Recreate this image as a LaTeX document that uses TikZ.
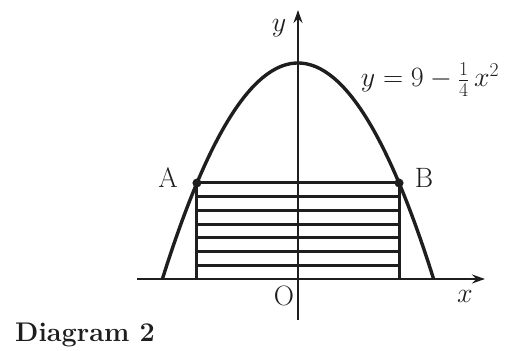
\RequirePackage{fix-cm}
\documentclass[tikz,border=0pt]{standalone}
\usepackage{amsmath}
\usepackage{tikz}
\usetikzlibrary{arrows.meta, positioning}
\definecolor{mydark}{RGB}{30,30,30}
\tikzset{
  axis/.style={-{Stealth[length=13pt,width=9pt]}, line width=2.3pt, color=mydark},
  curve/.style={line width=3.4pt, color=mydark},
  strip/.style={line width=3pt, color=mydark},
  lbl/.style={font=\fontsize{28}{32}\selectfont, color=mydark, inner sep=0pt},
  dotmark/.style={fill=mydark}
}

\begin{document}
\begin{tikzpicture}[x=22.6pt, y=24pt]
  \useasboundingbox (-298pt,-72pt) rectangle (209pt,279pt);
  % axes
  \coordinate (O) at (0,0);
  \coordinate (xl) at (-161pt,0);
  \coordinate (xr) at (187pt,0);
  \coordinate (yb) at (0,-41pt);
  \coordinate (yt) at (0,269pt);
  \draw[axis] (xl) -- (xr);
  \draw[axis] (yb) -- (yt);
  \node[lbl] (xlab) at (167pt,-17pt) {$x$};
  \node[lbl] (ylab) at (-19pt,251pt) {$y$};
  \node[lbl] (olab) at (-14pt,-17pt) {O};
  % curve
  \draw[curve] plot[domain=-6:6, samples=80, smooth] (\x, {9-0.25*\x*\x});
  \node[lbl] (eqn) at (132pt,199pt) {$y=9-\tfrac{1}{4}\,x^2$};
  % rectangle and strips
  \coordinate (a) at (-4.472,4);
  \coordinate (b) at (4.472,4);
  \coordinate (a0) at (-4.472,0);
  \coordinate (b0) at (4.472,0);
  \draw[strip] (a0) -- (a) -- (b) -- (b0);
  \foreach \k in {1,...,6} {
    \draw[strip] (-4.472,{4*\k/7}) -- (4.472,{4*\k/7});
  }
  \fill[dotmark] (a) circle (4.5pt);
  \fill[dotmark] (b) circle (4.5pt);
  \node[lbl] (alab) at (-130pt,101pt) {A};
  \node[lbl] (blab) at (126pt,101pt) {B};
  \node[font=\fontsize{27}{32}\selectfont\bfseries, color=mydark] (cap) at (-213pt,-56pt) {Diagram 2};
\end{tikzpicture}
\end{document}
